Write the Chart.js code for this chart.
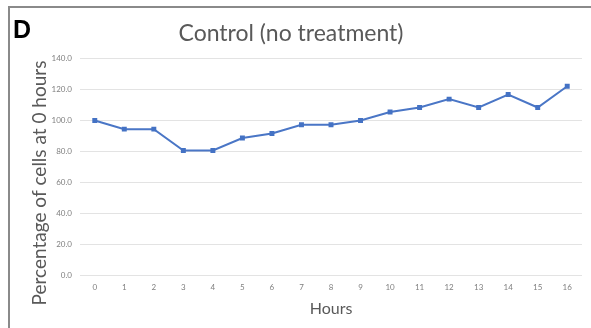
<!DOCTYPE html>
<html>
<head>
<meta charset="utf-8">
<script src="https://cdn.jsdelivr.net/npm/chart.js@4/dist/chart.umd.min.js"></script>
<style>
  html, body { margin: 0; padding: 0; background: #fff; overflow: hidden; }
  canvas { display: block; }
</style>
</head>
<body>
<canvas id="c" width="591" height="328"></canvas>
<script>
const hours = ['0','1','2','3','4','5','6','7','8','9','10','11','12','13','14','15','16'];
const percentCells = [100, 94.4, 94.4, 80.6, 80.6, 88.7, 91.6, 97.2, 97.2, 100, 105.5, 108.4, 113.8, 108.4, 116.8, 108.4, 122.1];
const yTicksMin = 0;
const yTicksMax = 140;
const yTickStep = 20;
const chartTitle = 'Control (no treatment)';
const panelLabel = 'D';
const xTitle = 'Hours';
const yTitle = 'Percentage of cells at 0 hours';

const framePlugin = {
  id: 'frame',
  beforeDraw(chart) {
    const ctx = chart.ctx;
    ctx.save();
    ctx.fillStyle = '#fff';
    ctx.fillRect(0, 0, chart.width, chart.height);
    ctx.strokeStyle = '#8a8a8a';
    ctx.lineWidth = 2;
    ctx.beginPath();
    ctx.moveTo(9, chart.height);
    ctx.lineTo(9, 7);
    ctx.lineTo(chart.width, 7);
    ctx.stroke();
    ctx.restore();
  }
};

const textPlugin = {
  id: 'extraText',
  afterDraw(chart) {
    const ctx = chart.ctx;
    ctx.save();
    ctx.font = 'bold 25px "Liberation Sans", Arial, sans-serif';
    ctx.fillStyle = '#000';
    ctx.textBaseline = 'middle';
    ctx.textAlign = 'left';
    ctx.fillText(panelLabel, 13, 31);
    ctx.translate(40, 183);
    ctx.rotate(-Math.PI / 2);
    ctx.font = '19px Lato, "Open Sans", sans-serif';
    ctx.fillStyle = '#595959';
    ctx.textAlign = 'center';
    ctx.fillText(yTitle, 0, 0);
    ctx.restore();
  }
};

new Chart(document.getElementById('c'), {
  type: 'line',
  data: {
    labels: hours,
    datasets: [{
      data: percentCells,
      borderColor: '#4A76C6',
      backgroundColor: '#4472C4',
      borderWidth: 2,
      pointStyle: 'rect',
      pointRadius: 3.5,
      pointBorderWidth: 0,
      tension: 0
    }]
  },
  options: {
    responsive: false,
    animation: false,
    devicePixelRatio: 1,
    layout: { padding: { top: 12, left: 0, right: 9, bottom: 10 } },
    plugins: {
      legend: { display: false },
      tooltip: { enabled: false },
      title: {
        display: true,
        text: chartTitle,
        color: '#595959',
        font: { family: 'Lato, "Open Sans", sans-serif', size: 23, weight: 'normal' },
        padding: { top: 8, bottom: 11 }
      }
    },
    scales: {
      x: {
        offset: true,
        grid: { display: false, drawTicks: false },
        border: { display: false },
        ticks: { color: '#7f7f7f', font: { family: 'Lato, sans-serif', size: 8 }, padding: 7, maxRotation: 0, autoSkip: false },
        title: { display: true, text: xTitle, color: '#595959', font: { family: 'Lato, sans-serif', size: 16 }, padding: { top: 0, bottom: 0 } }
      },
      y: {
        min: yTicksMin,
        max: yTicksMax,
        afterFit(scale) { scale.width = 80; },
        grid: { color: '#e3e3e3', lineWidth: 1, drawTicks: false },
        border: { display: false },
        ticks: {
          stepSize: yTickStep,
          color: '#7f7f7f',
          font: { family: 'Lato, sans-serif', size: 8 },
          padding: 8,
          callback: v => Number(v).toFixed(1)
        },
        title: { display: false }
      }
    }
  },
  plugins: [framePlugin, textPlugin]
});
</script>
</body>
</html>
